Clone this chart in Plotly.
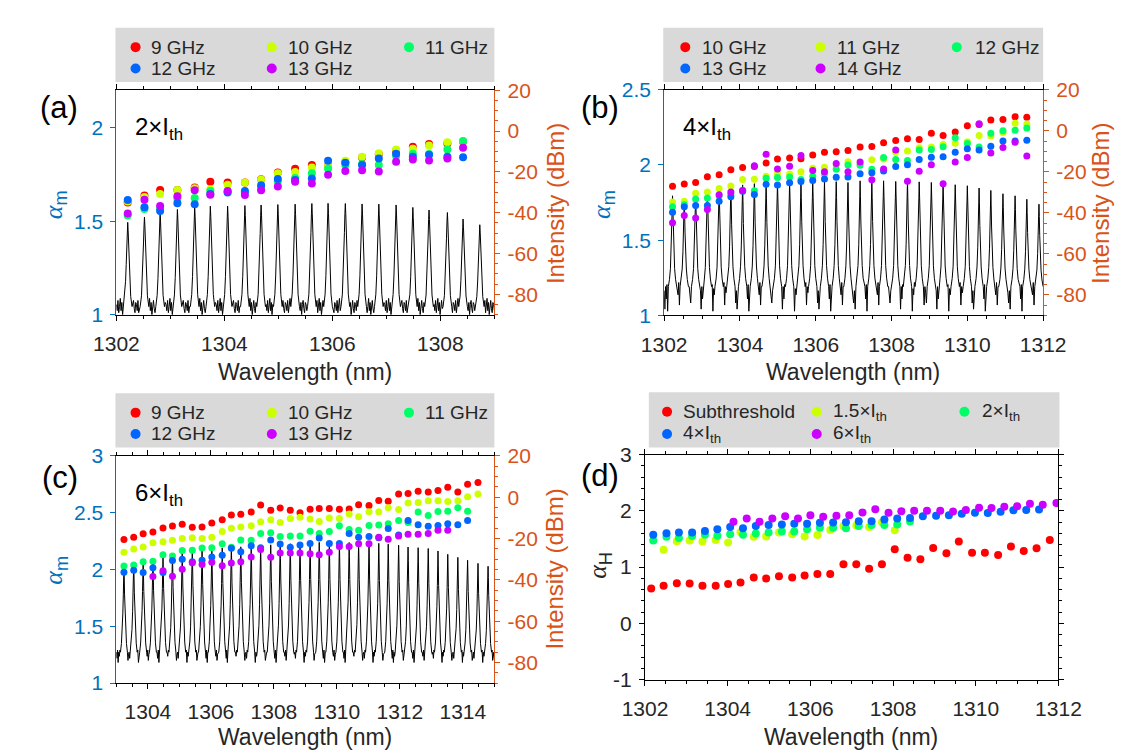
import plotly.graph_objects as go

W, H = 1132, 754
FONT = "Liberation Sans, Arial, sans-serif"

# ---------------- DATA ----------------
SERIES_COLORS = ["#ff0000", "#ccff00", "#00ff66", "#0066ff", "#cc00ff"]

# Panel (a) 2xIth
LAM_A = [1302.21, 1302.52, 1302.81, 1303.13, 1303.45, 1303.74, 1304.06, 1304.38, 1304.68, 1304.99,
         1305.31, 1305.62, 1305.92, 1306.24, 1306.55, 1306.86, 1307.18, 1307.49, 1307.79, 1308.13, 1308.42]
A_NAMES = ["9 GHz", "10 GHz", "11 GHz", "12 GHz", "13 GHz"]
A_9 = [1.60, 1.638, 1.667, 1.667, 1.68, 1.711, 1.707, 1.707, 1.724, 1.76, 1.78, 1.80, 1.797, 1.815,
       1.84, 1.86, 1.875, 1.898, 1.913, 1.915, 1.925]
A_10 = [1.605, 1.63, 1.645, 1.667, 1.676, 1.671, 1.695, 1.707, 1.723, 1.757, 1.763, 1.787, 1.797, 1.823,
        1.844, 1.863, 1.884, 1.887, 1.905, 1.922, 1.928]
A_11 = [1.53, 1.565, 1.567, 1.62, 1.624, 1.662, 1.659, 1.655, 1.679, 1.712, 1.731, 1.756, 1.78, 1.80,
        1.806, 1.80, 1.849, 1.861, 1.86, 1.884, 1.929]
A_12 = [1.613, 1.575, 1.555, 1.596, 1.591, 1.645, 1.653, 1.662, 1.692, 1.726, 1.72, 1.728, 1.823, 1.813,
        1.80, 1.835, 1.861, 1.844, 1.856, 1.844, 1.842]
A_13 = [1.541, 1.615, 1.581, 1.634, 1.666, 1.641, 1.662, 1.64, 1.666, 1.686, 1.711, 1.702, 1.749, 1.769,
        1.773, 1.766, 1.818, 1.83, 1.825, 1.835, 1.893]
PEAK_LAM_A = LAM_A + [1308.73]
PEAK_DB_A = [-44.7, -42.1, -39.9, -38.4, -37.1, -36.8, -36.8, -36.5, -36.2, -36.0, -35.8, -35.5, -35.4,
             -35.5, -35.7, -35.8, -36.2, -37.4, -38.7, -39.9, -43.1, -45.9]
FLOOR_A = -86.0

# Panel (b) 4xIth
LAM_B = [1302.22, 1302.53, 1302.83, 1303.14, 1303.45, 1303.76, 1304.07, 1304.38, 1304.69, 1304.99,
         1305.31, 1305.61, 1305.92, 1306.23, 1306.54, 1306.85, 1307.17, 1307.48, 1307.79, 1308.11,
         1308.42, 1308.73, 1309.05, 1309.36, 1309.68, 1310.0, 1310.31, 1310.62, 1310.94, 1311.26, 1311.57]
B_NAMES = ["10 GHz", "11 GHz", "12 GHz", "13 GHz", "14 GHz"]
B_10 = [1.858, 1.873, 1.884, 1.922, 1.935, 1.968, 1.983, 1.99, 2.013, 2.039, 2.047, 2.041, 2.067, 2.084,
        2.088, 2.097, 2.119, 2.123, 2.147, 2.162, 2.175, 2.17, 2.211, 2.196, 2.22, 2.261, 2.27, 2.299,
        2.302, 2.321, 2.317]
B_11 = [1.754, 1.759, 1.812, 1.821, 1.843, 1.86, 1.903, 1.905, 1.925, 1.944, 1.94, 1.955, 1.978, 1.985,
        2.0, 2.022, 2.01, 2.034, 2.04, 2.084, 2.093, 2.114, 2.12, 2.136, 2.144, 2.155, 2.196, 2.192,
        2.216, 2.278, 2.272]
B_12 = [1.722, 1.735, 1.774, 1.78, 1.795, 1.806, 1.832, 1.828, 1.912, 1.916, 1.92, 1.903, 1.925, 1.942,
        1.972, 2.0, 1.998, 1.972, 2.05, 2.037, 2.03, 2.10, 2.103, 2.121, 2.181, 2.142, 2.119, 2.211,
        2.228, 2.231, 2.246]
B_13 = [1.685, 1.722, 1.731, 1.731, 1.759, 1.789, 1.825, 1.804, 1.871, 1.866, 1.881, 1.89, 1.897, 1.907,
        1.918, 1.92, 1.942, 1.948, 1.96, 1.989, 2.002, 2.037, 2.052, 2.054, 2.084, 2.108, 2.099, 2.125,
        2.159, 2.159, 2.164]
B_14 = [1.616, 1.664, 1.647, 1.703, 1.802, 1.821, 1.83, 1.995, 2.071, 1.974, 1.991, 2.063, 1.963, 1.955,
        2.009, 1.955, 2.019, 1.901, 1.974, 2.099, 1.892, 1.959, 2.002, 1.875, 2.019, 2.05, 2.274, 2.08,
        2.116, 2.151, 2.06]
PEAK_LAM_B = LAM_B + [1311.89]
PEAK_DB_B = [-31.7, -33.1, -31.6, -29.8, -28.7, -27.4, -26.4, -25.8, -25.5, -25.3, -25.1, -25.0, -24.9,
             -24.8, -24.8, -25.2, -24.4, -24.7, -24.4, -24.7, -24.4, -24.9, -25.2, -25.7, -26.3, -26.8,
             -27.9, -29.1, -30.7, -31.7, -33.4, -35.8]
FLOOR_B = -76.0

# Panel (c) 6xIth
LAM_C = [1303.24, 1303.55, 1303.85, 1304.16, 1304.48, 1304.78, 1305.09, 1305.41, 1305.72, 1306.03,
         1306.36, 1306.65, 1306.95, 1307.28, 1307.58, 1307.9, 1308.2, 1308.52, 1308.83, 1309.15,
         1309.44, 1309.76, 1310.08, 1310.39, 1310.69, 1311.02, 1311.33, 1311.63, 1311.96, 1312.26,
         1312.58, 1312.9, 1313.21, 1313.52, 1313.84, 1314.15, 1314.48]
C_NAMES = ["9 GHz", "10 GHz", "11 GHz", "12 GHz", "13 GHz"]
C_9 = [2.264, 2.284, 2.315, 2.33, 2.366, 2.384, 2.398, 2.372, 2.375, 2.409, 2.438, 2.48, 2.486, 2.506,
       2.568, 2.523, 2.543, 2.523, 2.5, 2.531, 2.537, 2.537, 2.531, 2.534, 2.571, 2.565, 2.608, 2.602,
       2.665, 2.67, 2.69, 2.682, 2.696, 2.724, 2.682, 2.75, 2.767]
C_10 = [2.153, 2.182, 2.199, 2.236, 2.244, 2.259, 2.273, 2.281, 2.273, 2.284, 2.335, 2.364, 2.375, 2.386,
        2.42, 2.438, 2.415, 2.449, 2.46, 2.446, 2.423, 2.455, 2.449, 2.489, 2.466, 2.509, 2.509, 2.545,
        2.528, 2.585, 2.591, 2.605, 2.605, 2.599, 2.605, 2.642, 2.665]
C_11 = [2.031, 2.04, 2.068, 2.074, 2.131, 2.119, 2.168, 2.17, 2.19, 2.193, 2.227, 2.196, 2.261, 2.259,
        2.318, 2.324, 2.29, 2.295, 2.295, 2.338, 2.318, 2.335, 2.386, 2.352, 2.347, 2.389, 2.392, 2.403,
        2.432, 2.415, 2.506, 2.477, 2.511, 2.514, 2.545, 2.514, None]
C_12 = [1.977, 1.994, 1.974, 2.017, 1.975, 2.08, 2.091, 2.068, 2.082, 2.11, 2.125, 2.188, 2.156, 2.21,
        2.193, 2.261, 2.224, 2.196, 2.216, 2.23, 2.278, 2.23, 2.23, 2.318, 2.284, 2.29, 2.28, 2.361,
        2.304, 2.432, 2.395, 2.381, 2.389, 2.403, 2.395, 2.432, None]
C_13 = [None, None, None, 1.938, 1.99, 1.94, 2.003, 2.06, 2.045, 2.065, 2.034, 2.057, 2.068, 2.11,
        2.176, 2.108, 2.145, 2.145, 2.145, 2.139, 2.131, 2.153, 2.202, 2.202, 2.227, 2.227, 2.284, 2.267,
        2.295, 2.31, 2.31, 2.318, 2.347, 2.347, None, None, None]
PEAK_LAM_C = LAM_C + [1314.8]
PEAK_DB_C = [-33.0, -31.5, -30.5, -29.5, -28.5, -27.5, -26.5, -26.0, -25.5, -25.0, -24.5, -24.0, -24.0,
             -23.5, -23.5, -23.0, -22.8, -22.5, -22.2, -21.6, -21.8, -21.9, -21.9, -21.9, -21.9, -22.1,
             -22.3, -22.7, -23.2, -24.1, -24.4, -24.8, -26.0, -27.6, -29.1, -30.5, -32.0, -33.4]
FLOOR_C = -75.0

# Panel (d) alpha_H
D_NAMES = ["Subthreshold", "1.5\u00d7I<sub>th</sub>", "2\u00d7I<sub>th</sub>",
           "4\u00d7I<sub>th</sub>", "6\u00d7I<sub>th</sub>"]
D_LAM_SUB = [1302.15, 1302.45, 1302.77, 1303.08, 1303.39, 1303.71, 1304.01, 1304.31, 1304.63, 1304.93,
             1305.24, 1305.56, 1305.86, 1306.17, 1306.48, 1306.8, 1307.11, 1307.42, 1307.73, 1308.04,
             1308.35, 1308.66, 1308.97, 1309.29, 1309.59, 1309.91, 1310.22, 1310.54, 1310.85, 1311.16,
             1311.47, 1311.79]
D_SUB = [0.621, 0.667, 0.713, 0.707, 0.667, 0.667, 0.701, 0.724, 0.816, 0.799, 0.839, 0.816, 0.851,
         0.879, 0.879, 1.052, 1.052, 0.971, 1.052, 1.316, 1.167, 1.138, 1.339, 1.247, 1.454, 1.253,
         1.253, 1.213, 1.368, 1.287, 1.333, 1.483]
D_LAM_15 = [1302.45, 1302.77, 1303.08, 1303.39, 1303.71, 1304.01, 1304.31, 1304.63, 1304.93, 1305.24,
            1305.56, 1305.86, 1306.17, 1306.48, 1306.8, 1307.11, 1307.42, 1307.73, 1308.04]
D_15 = [1.31, 1.46, 1.471, 1.454, 1.483, 1.437, 1.62, 1.54, 1.546, 1.615, 1.586, 1.546, 1.569, 1.661,
        1.73, 1.741, 1.713, 1.799, 1.655]
D_LAM_4 = [1302.2, 1302.52, 1302.82, 1303.14, 1303.45, 1303.75, 1304.06, 1304.37, 1304.68, 1304.99,
           1305.31, 1305.61, 1305.92, 1306.23, 1306.55, 1306.86, 1307.17, 1307.48, 1307.79, 1308.1,
           1308.41, 1308.72, 1309.04, 1309.35, 1309.66, 1309.98, 1310.29, 1310.6, 1310.91, 1311.22,
           1311.53]
D_2 = [1.471, 1.54, 1.517, 1.552, 1.575, 1.557, 1.586, 1.575, 1.598, 1.615, 1.632, 1.632, 1.672, 1.701,
       1.701, 1.69, 1.73, 1.747, 1.747, 1.759, 1.81]
D_4 = [1.575, 1.603, 1.615, 1.615, 1.644, 1.672, 1.713, 1.69, 1.73, 1.747, 1.759, 1.77, 1.77, 1.787,
       1.793, 1.799, 1.816, 1.816, 1.845, 1.862, 1.874, 1.902, 1.914, 1.92, 1.948, 1.966, 1.96, 1.983,
       2.011, 2.017, 2.023]
D_LAM_6 = [1304.14, 1304.46, 1304.77, 1305.08, 1305.39, 1305.7, 1306.0, 1306.31, 1306.63, 1306.94,
           1307.26, 1307.57, 1307.89, 1308.2, 1308.51, 1308.82, 1309.14, 1309.45, 1309.76, 1310.08,
           1310.38, 1310.69, 1311.0, 1311.31, 1311.62, 1311.95]
D_6 = [1.805, 1.862, 1.805, 1.862, 1.902, 1.862, 1.92, 1.897, 1.914, 1.92, 1.971, 2.029, 1.966, 1.994,
       2.0, 2.0, 2.0, 1.989, 2.017, 2.057, 2.052, 2.075, 2.08, 2.126, 2.109, 2.138]

INT_TICKS = [-80, -60, -40, -20, 0, 20]
INT_LABELS = ["-80", "-60", "-40", "-20", "0", "20"]
AH_TICKS = [-1, 0, 1, 2, 3]
AH_LABELS = ["-1", "0", "1", "2", "3"]

# spectral line texture (shape of one mode, and floor jitter in dB)
SHAPE_A = [(0.08, 0.0), (0.055, 0.12), (0.04, 0.3), (0.028, 0.5), (0.017, 0.72), (0.008, 0.9), (0.0, 1.0)]
SHAPE_B = [(0.11, 0.0), (0.08, 0.08), (0.055, 0.2), (0.035, 0.4), (0.02, 0.62), (0.009, 0.85), (0.0, 1.0)]
SHAPE_C = [(0.11, 0.0), (0.08, 0.1), (0.055, 0.25), (0.035, 0.45), (0.02, 0.66), (0.009, 0.87), (0.0, 1.0)]
NOISE_A = [1, -2, 3, -3, 0, 4, -2, 2, -4, 1, 3, -1, -3, 2]
NOISE_B = [-2, -11, 0, -6, 1, -12, -1, -4, 2, -9, 0, -3, -8]
NOISE_C = [0, -3, 1, -5, 0, -2, 1, -4, -1]

BLUE = "#0072BD"
ORANGE = "#D95319"
DARK = "#262626"
TICK_SIZE = 21
ALPHA = "<span style='font-family:Liberation Serif, DejaVu Serif, serif'><i>\u03b1</i></span>"


def spectrum(peak_lam, peak_db, floor, shape, xr, noise, step):
    xs, ys = [], []
    k = 0
    cur = xr[0]
    xs.append(cur)
    ys.append(floor + noise[k % len(noise)])
    k += 1
    for pl, pd in zip(peak_lam + [None], peak_db + [None]):
        left = (pl - shape[0][0]) if pl is not None else xr[1]
        n = max(1, int(round((left - cur) / step)))
        for j in range(1, n):
            xs.append(cur + j * (left - cur) / n)
            ys.append(floor + noise[k % len(noise)])
            k += 1
        if pl is None:
            xs.append(xr[1])
            ys.append(floor + noise[k % len(noise)])
            break
        for dx, f in shape:
            xs.append(pl - dx)
            ys.append(floor + f * (pd - floor))
        for dx, f in reversed(shape[:-1]):
            xs.append(pl + dx)
            ys.append(floor + f * (pd - floor))
        cur = pl + shape[0][0]
    return xs, ys


def fx(p):
    return p / W


def fy(p):
    return 1 - p / H


fig = go.Figure()

# ---- spectra (base axes, drawn under the dots) ----
for (pl, pd, fl, sh, xr, nz, st, xa, ya) in [
    (PEAK_LAM_A, PEAK_DB_A, FLOOR_A, SHAPE_A, [1302, 1309], NOISE_A, 0.014, "x", "y"),
    (PEAK_LAM_B, PEAK_DB_B, FLOOR_B, SHAPE_B, [1302, 1312], NOISE_B, 0.02, "x2", "y3"),
    (PEAK_LAM_C, PEAK_DB_C, FLOOR_C, SHAPE_C, [1303, 1315], NOISE_C, 0.02, "x3", "y5"),
]:
    sx, sy = spectrum(pl, pd, fl, sh, xr, nz, st)
    fig.add_trace(go.Scatter(x=sx, y=sy, mode="lines", line=dict(color="black", width=1),
                             xaxis=xa, yaxis=ya, hoverinfo="skip"))

# ---- dots ----
def add_dots(lams, series, names, xa, ya, size):
    for s, nm, c in zip(series, names, SERIES_COLORS):
        fig.add_trace(go.Scatter(x=lams, y=s, mode="markers", name=nm, xaxis=xa, yaxis=ya,
                                 marker=dict(color=c, size=size, line=dict(width=0))))

add_dots(LAM_A, [A_9, A_10, A_11, A_12, A_13], A_NAMES, "x", "y2", 8)
add_dots(LAM_B, [B_10, B_11, B_12, B_13, B_14], B_NAMES, "x2", "y4", 7)
add_dots(LAM_C, [C_9, C_10, C_11, C_12, C_13], C_NAMES, "x3", "y6", 7)
for lx, s, nm, c in zip([D_LAM_SUB, D_LAM_15, D_LAM_4, D_LAM_4, D_LAM_6],
                        [D_SUB, D_15, D_2, D_4, D_6], D_NAMES, SERIES_COLORS):
    fig.add_trace(go.Scatter(x=lx[:len(s)], y=s, mode="markers", name=nm, xaxis="x4", yaxis="y7",
                             marker=dict(color=c, size=8, line=dict(width=0))))

# ---- axes styles ----
def xstyle(rng, t0, m0, dom, anchor):
    return dict(domain=dom, range=rng, anchor=anchor, tick0=t0, dtick=2, showline=True, linecolor="black",
                linewidth=1, mirror="ticks", ticks="outside", ticklen=5, tickcolor="black",
                tickfont=dict(size=TICK_SIZE, color=DARK, family=FONT), showgrid=False, zeroline=False,
                ticklabelstandoff=5,
                minor=dict(ticks="outside", ticklen=3, tick0=m0, dtick=0.5, tickcolor="black", showgrid=False))

def istyle(dom, anchor):
    return dict(domain=dom, range=[-90, 20], side="right", anchor=anchor, tickmode="array",
                tickvals=INT_TICKS, ticktext=INT_LABELS, showline=True, linecolor=ORANGE, linewidth=1,
                ticks="outside", ticklen=5, tickcolor=ORANGE,
                tickfont=dict(size=TICK_SIZE, color=ORANGE, family=FONT),
                showgrid=False, zeroline=False, ticklabelstandoff=3,
                minor=dict(ticks="outside", ticklen=3, tickmode="linear", tick0=0, dtick=5, tickcolor=ORANGE,
                           showgrid=False))

def astyle(rng, tv, over, anchor):
    return dict(range=rng, overlaying=over, side="left", anchor=anchor, tickmode="array", tickvals=tv,
                showline=True, linecolor=BLUE, linewidth=1, ticks="outside", ticklen=5, tickcolor=BLUE,
                tickfont=dict(size=TICK_SIZE, color=BLUE, family=FONT), showgrid=False, zeroline=False,
                ticklabelstandoff=3)

PA = dict(x=[89, 483], y=[72.5, 304])
PB = dict(x=[660, 1055], y=[72.0, 304.6])
PC = dict(x=[89, 483], y=[449.7, 684])
PD = dict(x=[640, 1071], y=[448.3, 680.3])

def xd(p):
    return [fx(p["x"][0]), fx(p["x"][1])]

def yd(p):
    return [fy(p["y"][1]), fy(p["y"][0])]

layout = dict(
    width=W, height=H, margin=dict(l=0, r=0, t=0, b=0), autosize=False,
    paper_bgcolor="white", plot_bgcolor="rgba(0,0,0,0)", showlegend=False,
    font=dict(family=FONT, color=DARK),
    xaxis=xstyle([1302, 1309], 1302, 1302, xd(PA), "y"),
    yaxis=istyle(yd(PA), "x"),
    yaxis2=astyle([1, 2.2], [1, 1.5, 2], "y", "x"),
    xaxis2=xstyle([1302, 1312], 1302, 1302, xd(PB), "y3"),
    yaxis3=istyle(yd(PB), "x2"),
    yaxis4=astyle([1, 2.5], [1, 1.5, 2, 2.5], "y3", "x2"),
    xaxis3=xstyle([1303, 1315], 1304, 1303, xd(PC), "y5"),
    yaxis5=istyle(yd(PC), "x3"),
    yaxis6=astyle([1, 3], [1, 1.5, 2, 2.5, 3], "y5", "x3"),
    xaxis4=xstyle([1302, 1312], 1302, 1302, xd(PD), "y7"),
    yaxis7=dict(domain=yd(PD), range=[-1, 3], anchor="x4", tickmode="array", tickvals=AH_TICKS,
                ticktext=AH_LABELS, showline=True, linecolor="black", linewidth=1, mirror="ticks",
                ticks="outside", ticklen=5, tickcolor="black",
                tickfont=dict(size=TICK_SIZE, color=DARK, family=FONT),
                showgrid=False, zeroline=False, ticklabelstandoff=3,
                minor=dict(ticks="outside", ticklen=3, tickmode="linear", tick0=0, dtick=0.2,
                           tickcolor="black", showgrid=False)),
)
fig.update_layout(**layout)

shapes = []
annotations = []

# ---- legends ----
def legend(box, names, dot_x, text_x, rows):
    shapes.append(dict(type="rect", xref="paper", yref="paper", x0=fx(box[0]), x1=fx(box[1]),
                       y0=fy(box[3]), y1=fy(box[2]), fillcolor="#d9d9d9", line=dict(width=0), layer="below"))
    pos = [(0, 0), (1, 0), (2, 0), (0, 1), (1, 1)]
    for (ci, ri), nm, c in zip(pos, names, SERIES_COLORS):
        shapes.append(dict(type="circle", xref="paper", yref="paper", xsizemode="pixel", ysizemode="pixel",
                           xanchor=fx(dot_x[ci]), yanchor=fy(rows[ri]), x0=-5, x1=5, y0=-5, y1=5,
                           fillcolor=c, line=dict(width=0)))
        annotations.append(dict(xref="paper", yref="paper", x=fx(text_x[ci]), y=fy(rows[ri]), text=nm,
                                showarrow=False, xanchor="left", yanchor="middle",
                                font=dict(size=19, color=DARK, family=FONT)))

legend([88, 483, 8, 64], A_NAMES, [109, 251, 394], [123, 266, 409], [28, 50])
legend([659, 1055, 8, 64], B_NAMES, [682, 823, 965], [697, 838, 982], [28, 50])
legend([88, 483, 385, 441], C_NAMES, [109, 251, 394], [123, 266, 409], [405, 427])
legend([644, 1072, 384, 441], D_NAMES, [663, 819, 973], [678, 834, 989], [404, 427])

def text(x, y, s, size, color=DARK, angle=0, xanchor="center"):
    annotations.append(dict(xref="paper", yref="paper", x=fx(x), y=fy(y), text=s, showarrow=False,
                            xanchor=xanchor, yanchor="middle", textangle=angle,
                            font=dict(size=size, color=color, family=FONT)))

for (cx, cy) in [(286, 363), (857, 363), (286, 740), (855, 740)]:
    text(cx, cy, "Wavelength (nm)", 23)
for (cx, cy) in [(25, 190), (596, 190), (25, 567)]:
    text(cx, cy, ALPHA + "<sub>m</sub>", 26, BLUE, -90)
for (cx, cy) in [(546, 189), (1115, 189), (546, 566)]:
    text(cx, cy, "Intensity (dBm)", 24, ORANGE, -90)
text(592, 562, ALPHA + "<sub>H</sub>", 26, DARK, -90)
for (cx, cy, s) in [(29, 90, "(a)"), (593, 90, "(b)"), (30, 472, "(c)"), (593, 470, "(d)")]:
    text(cx, cy, s, 31, "black")
text(106, 112, "2\u00d7I<sub>th</sub>", 24, "black", 0, "left")
text(678, 112, "4\u00d7I<sub>th</sub>", 24, "black", 0, "left")
text(106, 489, "6\u00d7I<sub>th</sub>", 24, "black", 0, "left")

fig.update_layout(shapes=shapes, annotations=annotations)
fig.write_html("out.html")
